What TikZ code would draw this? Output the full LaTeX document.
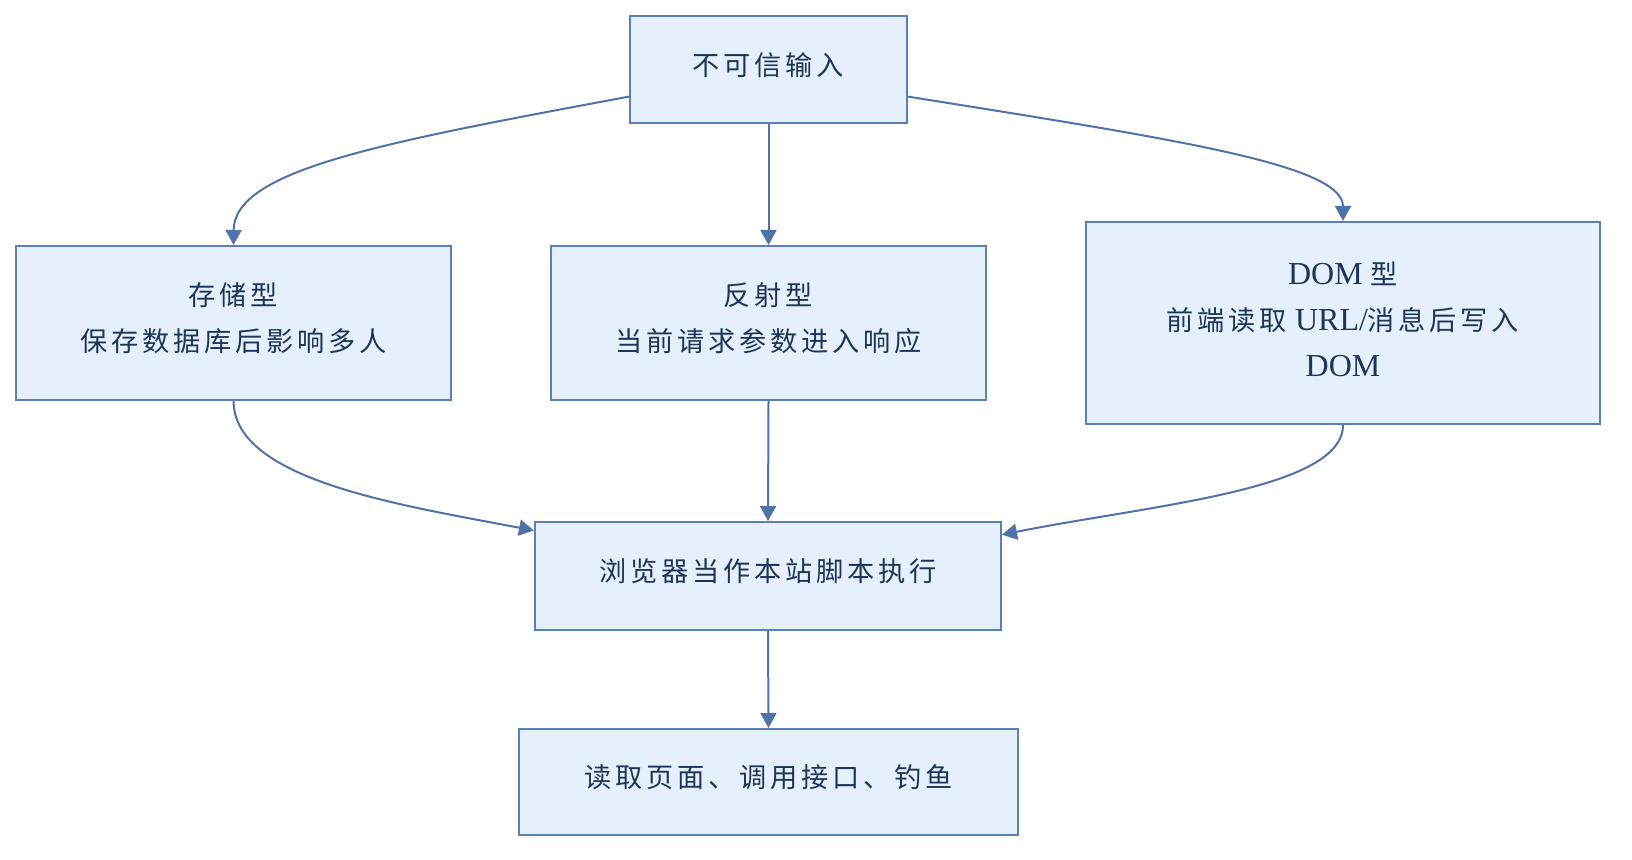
\documentclass[tikz,border=0pt]{standalone}
\usepackage{fontspec}
\setmainfont{Liberation Serif}
\newfontfamily\cjk[Scale=0.85,LetterSpace=14]{Noto Sans CJK SC}
\newcommand{\zh}[1]{{\cjk #1}}
\usetikzlibrary{arrows.meta}
\definecolor{boxfill}{HTML}{E6F0FD}
\definecolor{boxline}{HTML}{5B80B8}
\definecolor{linkcol}{HTML}{4F73A8}
\definecolor{textcol}{HTML}{1D3557}
\begin{document}
\begin{tikzpicture}[x=0.5pt,y=-0.5pt,
	box/.style={draw=boxline,line width=1pt,fill=boxfill,text=textcol,
		align=center,inner sep=0pt,font=\fontsize{16}{23}\selectfont},
	oneline/.style={box,text height=12pt,text depth=6.3pt},
	twolines/.style={box,text height=35pt,text depth=6.3pt},
	threelines/.style={box,text height=58pt,text depth=4.7pt},
	link/.style={draw=linkcol,line width=1pt,-{Triangle[length=7.5pt,width=8pt]}}]
		\useasboundingbox (0,0) rectangle (1632,860);
		% boxes
		\node[oneline,minimum width=138.5pt,minimum height=53.5pt] (in) at (768.5,69.5) {\zh{不可信输入}};
		\node[twolines,minimum width=217.5pt,minimum height=77pt] (store) at (233.5,323)
		{\zh{存储型}\\\zh{保存数据库后影响多人}};
		\node[twolines,minimum width=217.5pt,minimum height=77pt] (refl) at (768.5,323)
		{\zh{反射型}\\\zh{当前请求参数进入响应}};
		\node[threelines,minimum width=257pt,minimum height=101pt] (dom) at (1343,323)
		{DOM \zh{型}\\\zh{前端读取} URL/\zh{消息后写入}\\DOM};
		\node[oneline,minimum width=233pt,minimum height=54pt] (exec) at (768,576)
		{\zh{浏览器当作本站脚本执行}};
		\node[oneline,minimum width=249.5pt,minimum height=53pt] (harm) at (768.5,782)
		{\zh{读取页面、调用接口、钓鱼}};
		% links
		\draw[link] (in.191) .. controls (380,143) and (234,170) .. (store.north);
		\draw[link] (in.south) -- (refl.north);
		\draw[link] (in.-11) .. controls (1180,140) and (1343,165) .. (dom.north);
		\draw[link] (store.south) .. controls (234,480) and (400,505) .. (exec.169);
		\draw[link] (refl.south) -- (exec.north);
		\draw[link] (dom.south) .. controls (1343,490) and (1150,505) .. (exec.10);
		\draw[link] (exec.south) -- (harm.north);
	\end{tikzpicture}
\end{document}
